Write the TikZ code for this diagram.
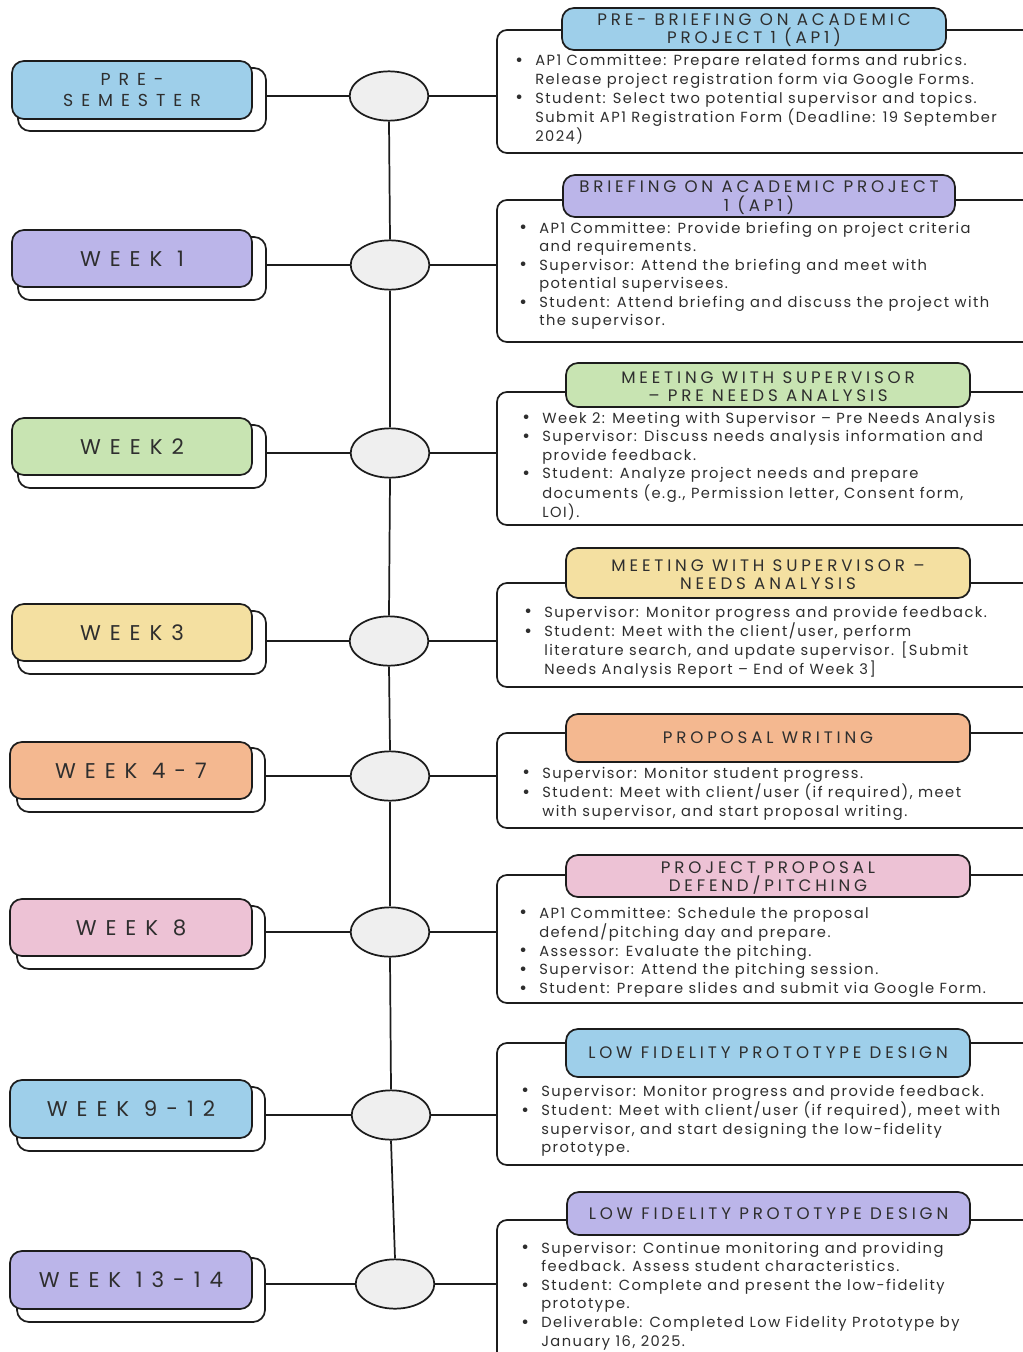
\documentclass[tikz,border=0pt]{standalone}
\usepackage{fontspec}
\setmainfont[LetterSpace=10]{Poppins}
\newfontfamily\weekfont[LetterSpace=42]{Poppins}
\newfontfamily\presemfont[LetterSpace=46]{Poppins}
\newfontfamily\headfont[LetterSpace=23]{Poppins}
\usetikzlibrary{shapes.geometric, fit, positioning}

\definecolor{ink}{HTML}{1C1C1C}
\definecolor{txt}{HTML}{2E2E2E}
\definecolor{skyblue}{HTML}{9ECFEA}
\definecolor{lilac}{HTML}{BBB5E9}
\definecolor{sage}{HTML}{C8E4B2}
\definecolor{sand}{HTML}{F4E0A1}
\definecolor{peach}{HTML}{F4B890}
\definecolor{rose}{HTML}{EDC2D5}
\definecolor{dotgray}{HTML}{EFEFEF}

\newcommand{\bl}{\makebox[15pt][l]{\raisebox{-0.6pt}{\fontsize{14}{14}\selectfont\textbullet}}}
\newcommand{\cl}{\hspace*{15pt}}
\newcommand{\bodyfont}{\fontsize{11}{13.95}\selectfont\color{txt}}

\tikzset{
  shade/.style={draw=ink, line width=1.3pt, fill=white, rounded corners=9pt, inner sep=0pt},
  label/.style={draw=ink, line width=1.3pt, rounded corners=9pt, inner sep=0pt},
  labeltext/.style={inner sep=0pt, text=txt, font=\weekfont\fontsize{16}{19}\selectfont, align=center},
  dot/.style={draw=ink, line width=1.3pt, fill=dotgray, ellipse,
    minimum width=59pt, minimum height=37pt, inner sep=0pt},
  panel/.style={draw=ink, line width=1.3pt, fill=white, rounded corners=7.5pt, inner sep=0pt},
  head/.style={draw=ink, line width=1.3pt, rounded corners=9pt, inner sep=0pt},
  headtext/.style={inner sep=0pt, text=txt, font=\headfont\fontsize{12.5}{13.6}\selectfont, align=center},
  notes/.style={anchor=base west, inner sep=0pt, font=\bodyfont},
  link/.style={draw=ink, line width=1.3pt}
}

\begin{document}
\begin{tikzpicture}[x=0.75pt, y=-0.75pt]
\useasboundingbox (0,0) rectangle (1022,1352);

% week labels on the left
\node[shade, fit={(18,68) (266,131)}] (shade1) {};
\node[label, fill=skyblue, fit={(12,61) (252,119)}] (lab1) {};
\node[labeltext, font=\presemfont\fontsize{13}{15.8}\selectfont] (labtext1) at (lab1.center) {PRE-\\SEMESTER};
\node[shade, fit={(18,237) (266,300)}] (shade2) {};
\node[label, fill=lilac, fit={(12,230) (252,287)}] (lab2) {};
\node[labeltext] (labtext2) at (lab2.center) {WEEK 1};
\node[shade, fit={(18,425) (266,488)}] (shade3) {};
\node[label, fill=sage, fit={(12,418) (252,475)}] (lab3) {};
\node[labeltext] (labtext3) at (lab3.center) {WEEK2};
\node[shade, fit={(18,611) (266,674)}] (shade4) {};
\node[label, fill=sand, fit={(12,604) (252,661)}] (lab4) {};
\node[labeltext] (labtext4) at (lab4.center) {WEEK3};
\node[shade, fit={(17,748) (265,812)}] (shade5) {};
\node[label, fill=peach, fit={(10,742) (252,799)}] (lab5) {};
\node[labeltext] (labtext5) at (lab5.center) {WEEK 4-7};
\node[shade, fit={(17,906) (265,969)}] (shade6) {};
\node[label, fill=rose, fit={(10,899) (252,956)}] (lab6) {};
\node[labeltext] (labtext6) at (lab6.center) {WEEK 8};
\node[shade, fit={(17,1087) (265,1151)}] (shade7) {};
\node[label, fill=skyblue, fit={(10,1080) (252,1138)}] (lab7) {};
\node[labeltext] (labtext7) at (lab7.center) {WEEK 9-12};
\node[shade, fit={(17,1258) (265,1322)}] (shade8) {};
\node[label, fill=lilac, fit={(10,1251) (252,1309)}] (lab8) {};
\node[labeltext] (labtext8) at (lab8.center) {WEEK 13-14};

% timeline dots
\node[dot] (dot1) at (389,96) {};
\node[dot] (dot2) at (390,265) {};
\node[dot] (dot3) at (390,453) {};
\node[dot] (dot4) at (389,641) {};
\node[dot] (dot5) at (390,776) {};
\node[dot] (dot6) at (390,932) {};
\node[dot] (dot7) at (391,1115) {};
\node[dot] (dot8) at (395,1284) {};

% panels on the right
\node[panel, fit={(497,30) (1035,153)}] (panel1) {};
\node[head, fill=skyblue, fit={(562,8) (946,50)}] (head1) {};
\node[headtext] (headtext1) at ([yshift=-1.2pt]head1.center) {PRE- BRIEFING ON ACADEMIC\\PROJECT 1 (AP1)};
\node[notes] (notes1) at (515,66) {\begin{tabular}[t]{@{}l@{}}
\bl AP1 Committee: Prepare related forms and rubrics.\\
\cl Release project registration form via Google Forms.\\
\bl Student: Select two potential supervisor and topics.\\
\cl Submit AP1 Registration Form (Deadline: 19 September\\
\cl 2024)
\end{tabular}};

\node[panel, fit={(497,200) (1035,342)}] (panel2) {};
\node[head, fill=lilac, fit={(563,175) (955,217)}] (head2) {};
\node[headtext] (headtext2) at ([yshift=-1.2pt]head2.center) {BRIEFING ON ACADEMIC PROJECT\\1 (AP1)};
\node[notes] (notes2) at (519,233) {\begin{tabular}[t]{@{}l@{}}
\bl AP1 Committee: Provide briefing on project criteria\\
\cl and requirements.\\
\bl Supervisor: Attend the briefing and meet with\\
\cl potential supervisees.\\
\bl Student: Attend briefing and discuss the project with\\
\cl the supervisor.
\end{tabular}};

\node[panel, fit={(497,392) (1035,525)}] (panel3) {};
\node[head, fill=sage, fit={(566,363) (970,407)}] (head3) {};
\node[headtext] (headtext3) at ([yshift=-1.2pt]head3.center) {MEETING WITH SUPERVISOR\\– PRE NEEDS ANALYSIS};
\node[notes] (notes3) at (522,423) {\begin{tabular}[t]{@{}l@{}}
\bl Week 2: Meeting with Supervisor – Pre Needs Analysis\\
\bl Supervisor: Discuss needs analysis information and\\
\cl provide feedback.\\
\bl Student: Analyze project needs and prepare\\
\cl documents (e.g., Permission letter, Consent form,\\
\cl LOI).
\end{tabular}};

\node[panel, fit={(497,583) (1035,687)}] (panel4) {};
\node[head, fill=sand, fit={(566,548) (970,598)}] (head4) {};
\node[headtext] (headtext4) at ([yshift=-1.2pt]head4.center) {MEETING WITH SUPERVISOR –\\NEEDS ANALYSIS};
\node[notes] (notes4) at (524,617) {\begin{tabular}[t]{@{}l@{}}
\bl Supervisor: Monitor progress and provide feedback.\\
\bl Student: Meet with the client/user, perform\\
\cl literature search, and update supervisor. [Submit\\
\cl Needs Analysis Report – End of Week 3]
\end{tabular}};

\node[panel, fit={(497,733) (1035,828)}] (panel5) {};
\node[head, fill=peach, fit={(566,714) (970,762)}] (head5) {};
\node[headtext] (headtext5) at (head5.center) {PROPOSAL WRITING};
\node[notes] (notes5) at (522,778) {\begin{tabular}[t]{@{}l@{}}
\bl Supervisor: Monitor student progress.\\
\bl Student: Meet with client/user (if required), meet\\
\cl with supervisor, and start proposal writing.
\end{tabular}};

\node[panel, fit={(497,875) (1035,1003)}] (panel6) {};
\node[head, fill=rose, fit={(566,855) (970,897)}] (head6) {};
\node[headtext] (headtext6) at ([yshift=-1.2pt]head6.center) {PROJECT PROPOSAL\\DEFEND/PITCHING};
\node[notes] (notes6) at (519,918) {\begin{tabular}[t]{@{}l@{}}
\bl AP1 Committee: Schedule the proposal\\
\cl defend/pitching day and prepare.\\
\bl Assessor: Evaluate the pitching.\\
\bl Supervisor: Attend the pitching session.\\
\bl Student: Prepare slides and submit via Google Form.
\end{tabular}};

\node[panel, fit={(497,1043) (1035,1165)}] (panel7) {};
\node[head, fill=skyblue, fit={(566,1029) (970,1077)}] (head7) {};
\node[headtext] (headtext7) at (head7.center) {LOW FIDELITY PROTOTYPE DESIGN};
\node[notes] (notes7) at (521,1096) {\begin{tabular}[t]{@{}l@{}}
\bl Supervisor: Monitor progress and provide feedback.\\
\bl Student: Meet with client/user (if required), meet with\\
\cl supervisor, and start designing the low-fidelity\\
\cl prototype.
\end{tabular}};

\node[panel, fit={(497,1220) (1035,1375)}] (panel8) {};
\node[head, fill=lilac, fit={(567,1192) (970,1235)}] (head8) {};
\node[headtext] (headtext8) at (head8.center) {LOW FIDELITY PROTOTYPE DESIGN};
\node[notes] (notes8) at (521,1253) {\begin{tabular}[t]{@{}l@{}}
\bl Supervisor: Continue monitoring and providing\\
\cl feedback. Assess student characteristics.\\
\bl Student: Complete and present the low-fidelity\\
\cl prototype.\\
\bl Deliverable: Completed Low Fidelity Prototype by\\
\cl January 16, 2025.
\end{tabular}};

% connectors
\foreach \i in {1,...,8} {
  \draw[link] (shade\i.east |- dot\i.west) -- (dot\i.west);
  \draw[link] (dot\i.east) -- (dot\i.east -| panel\i.west);
}
\foreach \i/\j in {1/2,2/3,3/4,4/5,5/6,6/7,7/8}
  \draw[link] (dot\i.south) -- (dot\j.north);
\end{tikzpicture}
\end{document}
